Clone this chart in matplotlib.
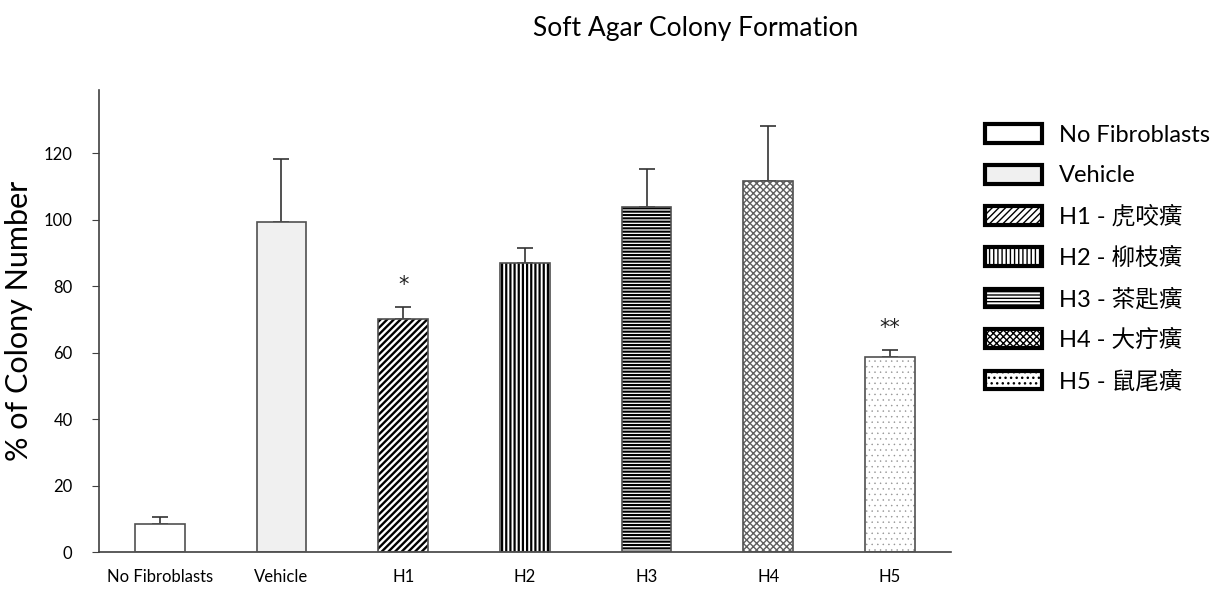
import matplotlib
matplotlib.use("Agg")
import matplotlib.pyplot as plt
from matplotlib.patches import Patch

# --- data ---
categories = ["No Fibroblasts", "Vehicle", "H1", "H2", "H3", "H4", "H5"]
means = [8.3, 99.3, 70.0, 86.8, 103.8, 111.7, 58.8]
errors = [2.3, 18.8, 3.8, 4.6, 11.4, 16.6, 2.0]
signif = ["", "", "*", "", "", "", "**"]
legend_labels = ["No Fibroblasts", "Vehicle", "H1 - 虎咬癀", "H2 - 柳枝癀",
                 "H3 - 茶匙癀", "H4 - 大疔癀", "H5 - 鼠尾癀"]

# --- styles per bar ---
face_colors = ["white", "#f0f0f0", "white", "white", "white", "white", "white"]
hatches = [None, None, "/////", "||||", "-----", "xxxxx", "..."]
hatch_colors = ["#404040", "#404040", "black", "black", "black", "#606060", "#909090"]
hatch_widths = [1, 1, 1.7, 1.6, 1.5, 1.0, 0.3]

FONT = ["Lato", "Noto Sans CJK TC", "DejaVu Sans"]
plt.rcParams["font.family"] = FONT


def hatched(patch, i):
    if hasattr(patch, "set_hatch_linewidth"):
        patch.set_hatch_linewidth(hatch_widths[i])
    return patch


fig = plt.figure(figsize=(12.22, 5.9), dpi=100)
ax = fig.add_axes([0.081, 0.0644, 0.697, 0.7831])

x = range(len(categories))
width = 0.41
for i in x:
    with plt.rc_context({"hatch.linewidth": hatch_widths[i]}):
        if hatches[i]:
            bars = ax.bar(i, means[i], width, color=face_colors[i], edgecolor=hatch_colors[i],
                          hatch=hatches[i], linewidth=0, zorder=2)
            for b in bars:
                hatched(b, i)
        else:
            ax.bar(i, means[i], width, color=face_colors[i], linewidth=0, zorder=2)
    ax.bar(i, means[i], width, fill=False, edgecolor="#505050", linewidth=1.2, zorder=3)
    ax.errorbar(i, means[i], yerr=[[0], [errors[i]]], fmt="none", ecolor="#333333",
                elinewidth=1.2, capsize=6, capthick=1.2, zorder=1)
    if signif[i]:
        ax.text(i, means[i] + errors[i] + 3.5, signif[i], ha="center", va="bottom",
                fontsize=15, color="#222222", family="DejaVu Sans")

ax.set_xlim(-0.5, len(categories) - 0.5)
ax.set_ylim(0, 139)
ax.set_yticks(range(0, 121, 20))
ax.set_xticks(list(x))
ax.set_xticklabels(categories, fontsize=12)
ax.tick_params(axis="x", length=0, pad=12)
ax.tick_params(axis="y", length=5, labelsize=12, pad=14, color="#404040")
for s in ["top", "right"]:
    ax.spines[s].set_visible(False)
for s in ["left", "bottom"]:
    ax.spines[s].set_color("#404040")
    ax.spines[s].set_linewidth(1.2)

ax.set_ylabel("% of Colony Number", fontsize=22, labelpad=8)
fig.text(0.569, 0.952, "Soft Agar Colony Formation", ha="center", va="center", fontsize=19)

handles = []
for i in x:
    with plt.rc_context({"hatch.linewidth": hatch_widths[i]}):
        handles.append(hatched(Patch(facecolor=face_colors[i], edgecolor="black", linewidth=3,
                                     hatch=hatches[i]), i))
leg = fig.legend(handles, legend_labels, loc="upper left", bbox_to_anchor=(0.789, 0.825),
                 frameon=False, fontsize=17, handlelength=2.4, handleheight=0.85,
                 labelspacing=0.795, handletextpad=0.7)

fig.savefig("out.png", dpi=100)
